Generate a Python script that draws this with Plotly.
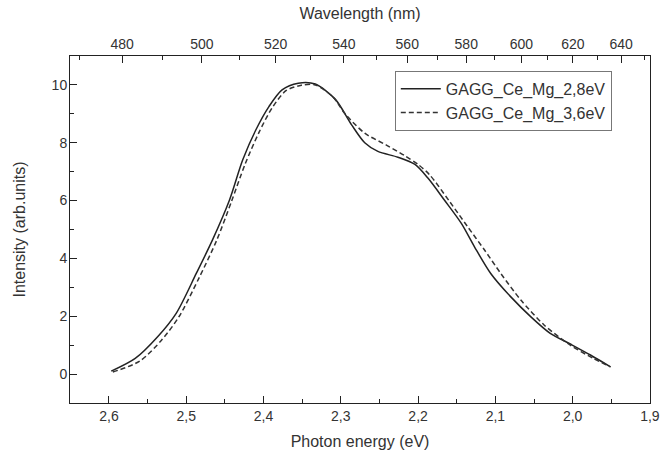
import plotly.graph_objects as go

# ---- data ----
energy_a = [2.597, 2.566, 2.537, 2.513, 2.487, 2.466, 2.444, 2.427, 2.410, 2.393,
            2.376, 2.355, 2.333, 2.307, 2.286, 2.269, 2.252, 2.226, 2.204, 2.187,
            2.166, 2.144, 2.127, 2.106, 2.080, 2.054, 2.029, 2.003, 1.977, 1.951]
intensity_a = [0.10, 0.54, 1.29, 2.10, 3.48, 4.64, 6.02, 7.40, 8.44, 9.25,
               9.83, 10.06, 10.03, 9.50, 8.62, 8.00, 7.70, 7.50, 7.25, 6.77,
               6.02, 5.21, 4.40, 3.48, 2.67, 1.98, 1.41, 1.04, 0.66, 0.25]

energy_b = [2.595, 2.560, 2.532, 2.509, 2.483, 2.461, 2.441, 2.424, 2.406, 2.389,
            2.371, 2.351, 2.333, 2.310, 2.295, 2.269, 2.241, 2.217, 2.200, 2.185,
            2.159, 2.136, 2.114, 2.093, 2.067, 2.037, 2.003, 1.973, 1.951]
intensity_b = [0.07, 0.45, 1.17, 2.00, 3.35, 4.60, 6.00, 7.25, 8.35, 9.20,
               9.80, 9.99, 10.00, 9.58, 9.02, 8.33, 7.92, 7.55, 7.25, 6.89,
               5.96, 5.10, 4.29, 3.48, 2.56, 1.70, 1.00, 0.54, 0.25]

name_a = "GAGG_Ce_Mg_2,8eV"
name_b = "GAGG_Ce_Mg_3,6eV"

energy_ticks = [2.6, 2.5, 2.4, 2.3, 2.2, 2.1, 2.0, 1.9]
wavelength_major = [480, 500, 520, 540, 560, 580, 600, 620, 640]
wavelength_minor = [470, 490, 510, 530, 550, 570, 590, 610, 630, 650]
HC = 1239.84  # eV*nm

x_range = [2.6504, 1.8999]
y_range = [-1, 11]

FONT = "Liberation Sans, Arial, sans-serif"
TXT = "#333333"
AX = "#222222"

fig = go.Figure()
fig.add_trace(go.Scatter(x=energy_a, y=intensity_a, name=name_a, mode="lines",
                         line=dict(color="#222222", width=1.5, shape="spline", smoothing=0.8)))
fig.add_trace(go.Scatter(x=energy_b, y=intensity_b, name=name_b, mode="lines",
                         line=dict(color="#333333", width=1.5, dash="5px,3px",
                                   shape="spline", smoothing=0.8)))
# invisible trace to activate top axis
fig.add_trace(go.Scatter(x=[x_range[0]], y=[None], xaxis="x2", showlegend=False,
                         hoverinfo="skip", mode="lines"))

fig.update_layout(
    width=660, height=460,
    margin=dict(l=70, r=10, t=56, b=57, autoexpand=False),
    paper_bgcolor="white", plot_bgcolor="white",
    separators=",.",
    font=dict(family=FONT, color=TXT, size=14),
    showlegend=True,
    legend=dict(x=0.560, y=0.957, xanchor="left", yanchor="top",
                bordercolor="#777777", borderwidth=1, bgcolor="white",
                font=dict(size=16, color=TXT), tracegroupgap=0,
                itemwidth=40),
    xaxis=dict(range=x_range, tickvals=energy_ticks, tickformat=".1f",
               ticks="inside", ticklen=7, tickwidth=1, tickcolor=AX,
               ticklabeloverflow="allow", automargin=False,
               minor=dict(dtick=0.05, tick0=1.9, ticks="inside", ticklen=4, tickcolor=AX),
               showline=True, linecolor=AX, linewidth=1, mirror=True,
               showgrid=False, zeroline=False,
               title=dict(text="Photon energy (eV)", font=dict(size=16), standoff=13),
               tickfont=dict(size=14)),
    xaxis2=dict(range=x_range, overlaying="x", side="top", anchor="y",
                tickmode="array", automargin=False,
                tickvals=[HC / w for w in wavelength_major],
                ticktext=[str(w) for w in wavelength_major],
                ticks="inside", ticklen=7, tickwidth=1, tickcolor=AX,
                minor=dict(tickvals=[HC / w for w in wavelength_minor], ticks="inside",
                           ticklen=4, tickcolor=AX),
                showline=True, linecolor=AX, linewidth=1,
                showgrid=False, zeroline=False,
                title=dict(text="Wavelength (nm)", font=dict(size=16), standoff=12),
                tickfont=dict(size=14)),
    yaxis=dict(range=y_range, tickvals=[0, 2, 4, 6, 8, 10], automargin=False,
               ticks="inside", ticklen=7, tickwidth=1, tickcolor=AX,
               minor=dict(dtick=1, tick0=0, ticks="inside", ticklen=4, tickcolor=AX),
               showline=True, linecolor=AX, linewidth=1, mirror=True,
               showgrid=False, zeroline=False, ticklabelstandoff=-1,
               title=dict(text="Intensity (arb.units)", font=dict(size=16), standoff=22),
               tickfont=dict(size=14)),
)

fig.write_html("out.html")
